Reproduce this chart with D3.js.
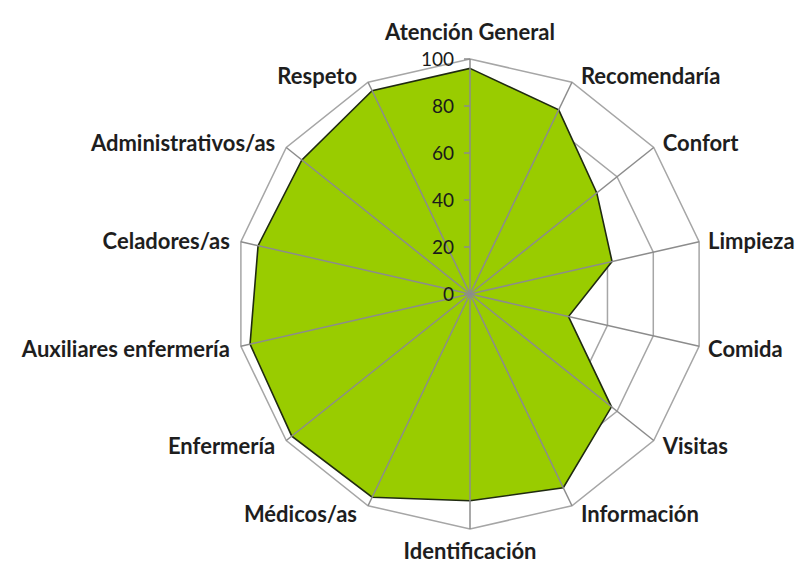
<!DOCTYPE html>
<html>
<head>
<meta charset="utf-8">
<script src="https://cdn.jsdelivr.net/npm/d3@7"></script>
<style>
  html, body { margin: 0; padding: 0; background: #fff; }
  svg { display: block; }
  .lbl { font-family: Lato, "Open Sans", sans-serif; font-weight: bold; font-size: 22px; fill: #1e1e1e; }
  .tick-lbl { font-family: Lato, "Open Sans", sans-serif; font-size: 19px; fill: #1a1a1a; }
</style>
</head>
<body>
<svg id="chart" width="799" height="567"></svg>
<script>
var categories = ["Atención General", "Recomendaría", "Confort", "Limpieza", "Comida", "Visitas",
    "Información", "Identificación", "Médicos/as", "Enfermería", "Auxiliares enfermería",
    "Celadores/as", "Administrativos/as", "Respeto"];
var values = [96, 87, 69, 62, 43, 77, 91.5, 88, 96, 97, 96, 92.5, 91.5, 96];
var ticks = [0, 20, 40, 60, 80, 100];

var svg = d3.select("#chart");
var cx = 470, cy = 294, R = 235;
var n = categories.length;

var r = d3.scaleLinear().domain([0, 100]).range([0, R]);
var angle = d3.scaleLinear().domain([0, n]).range([0, 2 * Math.PI]);

function pt(i, v) {
    var a = angle(i);
    return [cx + r(v) * Math.sin(a), cy - r(v) * Math.cos(a)];
}

var g = svg.append("g");

// rings
ticks.filter(function (t) { return t > 0; }).forEach(function (t) {
    g.append("polygon")
        .attr("points", d3.range(n).map(function (i) { return pt(i, t).join(","); }).join(" "))
        .attr("fill", "none")
        .attr("stroke", "#a6a6a6")
        .attr("stroke-width", 1.5);
});

// data area
var line = d3.lineRadial()
    .angle(function (d, i) { return angle(i); })
    .radius(function (d) { return r(d); })
    .curve(d3.curveLinearClosed);

g.append("path")
    .datum(values)
    .attr("transform", "translate(" + cx + "," + cy + ")")
    .attr("d", line)
    .attr("fill", "#99cc00")
    .attr("stroke", "#1f2a10")
    .attr("stroke-width", 1.6);

// spokes
g.selectAll(".spoke")
    .data(categories)
    .enter().append("line")
    .attr("class", "spoke")
    .attr("x1", cx).attr("y1", cy)
    .attr("x2", function (d, i) { return pt(i, 100)[0]; })
    .attr("y2", function (d, i) { return pt(i, 100)[1]; })
    .attr("stroke", "#8c8c8c")
    .attr("stroke-width", 1.5);

// value axis ticks
g.selectAll(".tk")
    .data(ticks)
    .enter().append("line")
    .attr("x1", cx - 6).attr("x2", cx)
    .attr("y1", function (d) { return cy - r(d); })
    .attr("y2", function (d) { return cy - r(d); })
    .attr("stroke", "#8c8c8c")
    .attr("stroke-width", 1.5);

g.selectAll(".tick-lbl")
    .data(ticks)
    .enter().append("text")
    .attr("class", "tick-lbl")
    .attr("x", cx - 16)
    .attr("y", function (d) { return cy - r(d); })
    .attr("dy", "0.35em")
    .attr("text-anchor", "end")
    .text(function (d) { return d; });

// category labels
g.selectAll(".lbl")
    .data(categories)
    .enter().append("text")
    .attr("class", "lbl")
    .each(function (d, i) {
        var a = angle(i), s = Math.sin(a), c = Math.cos(a);
        var p = pt(i, 100);
        var mid = Math.abs(s) < 0.1;
        var anchor = mid ? "middle" : (s > 0 ? "start" : "end");
        var dx = mid ? 0 : (s > 0 ? 9 : -11);
        var dy = mid ? (c > 0 ? -27 : 22) : -c * 8 + 1;
        d3.select(this)
            .attr("x", p[0] + dx)
            .attr("y", p[1] + dy)
            .attr("dy", "0.35em")
            .attr("text-anchor", anchor)
            .text(d);
    });
</script>
</body>
</html>
